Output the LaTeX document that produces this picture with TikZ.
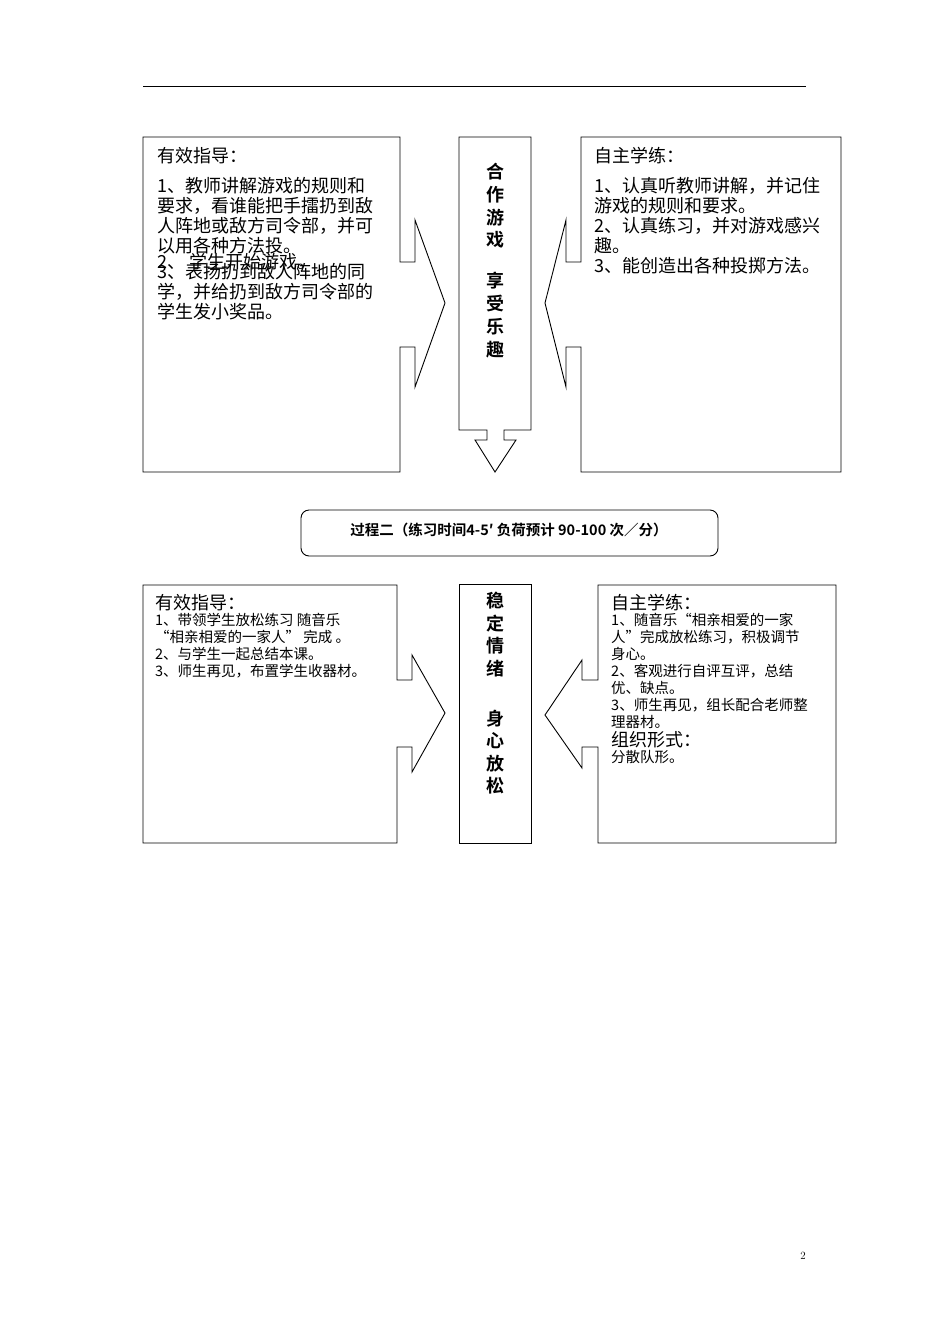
\documentclass[tikz,border=0pt]{standalone}
\usepackage{fontspec}
\newfontfamily\cjk{Noto Sans CJK SC}
\newfontfamily\cjkb{Noto Sans CJK SC Bold}
\begin{document}
\begin{tikzpicture}[x=1pt,y=-1pt,
  shp/.style={draw,line width=0.9pt,line join=miter},
  tA/.style={anchor=west,inner sep=0,font=\cjk\fontsize{18}{20}\selectfont},
  tB/.style={anchor=west,inner sep=0,font=\cjk\fontsize{14.5}{16}\selectfont},
  vt/.style={inner sep=0,font=\cjkb\fontsize{18}{18}\selectfont}]
\useasboundingbox (0,0) rectangle (950,1344);
\draw[line width=0.8pt] (143,86) -- (806,86);
% top
\draw[shp] (143,137) -- (400,137) -- (400,262) -- (415,262) -- (415,220) -- (445,303) -- (415,387) -- (415,347) -- (400,347) -- (400,472) -- (143,472) -- cycle;
\draw[shp] (459,137) -- (531,137) -- (531,430) -- (504,430) -- (504,440) -- (516,440) -- (495,472) -- (475,440) -- (487,440) -- (487,430) -- (459,430) -- cycle;
\draw[shp] (841,137) -- (581,137) -- (581,262) -- (566,262) -- (566,220) -- (545,303) -- (566,387) -- (566,347) -- (581,347) -- (581,472) -- (841,472) -- cycle;
\node[tA] (a0) at (157,156) {有效指导：};
\node[tA] (a1) at (157,186) {1、教师讲解游戏的规则和};
\node[tA] (a2) at (157,206) {要求，看谁能把手擂扔到敌};
\node[tA] (a3) at (157,226) {人阵地或敌方司令部，并可};
\node[tA] (a4) at (157,246) {以用各种方法投。};
\node[tA] (a5) at (157,262) {2、 学生开始游戏。};
\node[tA] (a6) at (157,272) {3、表扬扔到敌人阵地的同};
\node[tA] (a7) at (157,292) {学，并给扔到敌方司令部的};
\node[tA] (a8) at (157,312) {学生发小奖品。};
\node[tA] (b0) at (594,156) {自主学练：};
\node[tA] (b1) at (594,186) {1、认真听教师讲解，并记住};
\node[tA] (b2) at (594,206) {游戏的规则和要求。};
\node[tA] (b3) at (594,226) {2、认真练习，并对游戏感兴};
\node[tA] (b4) at (594,246) {趣。};
\node[tA] (b5) at (594,266) {3、能创造出各种投掷方法。};
\foreach \c/\y [count=\i] in {合/172,作/195,游/218,戏/240,享/281,受/304,乐/327,趣/350}
  \node[vt] (v\i) at (495,\y) {\c};
% banner
\draw[line width=0.9pt,rounded corners=8pt] (301,510) rectangle (718,556);
\node[inner sep=0,font=\cjkb\fontsize{14.5}{16}\selectfont] (ban) at (509,530) {过程二（练习时间4-5′ 负荷预计 90-100 次／分）};
% bottom
\draw[shp] (143,585) -- (397,585) -- (397,680) -- (412,680) -- (412,655) -- (445,713) -- (412,772) -- (412,747) -- (397,747) -- (397,843) -- (143,843) -- cycle;
\draw[shp] (459,584) rectangle (531,843);
\draw[shp] (836,585) -- (598,585) -- (598,680) -- (582,680) -- (582,660) -- (545,715) -- (582,768) -- (582,747) -- (598,747) -- (598,843) -- (836,843) -- cycle;
\node[tA] (c0) at (155,603) {有效指导：};
\node[tB] (c1) at (155,620) {1、带领学生放松练习 随音乐};
\node[tB] (c2) at (155,637) {“相亲相爱的一家人” 完成 。};
\node[tB] (c3) at (155,654) {2、与学生一起总结本课。};
\node[tB] (c4) at (155,671) {3、师生再见，布置学生收器材。};
\node[tA] (d0) at (611,603) {自主学练：};
\node[tB] (d1) at (611,620) {1、随音乐“相亲相爱的一家};
\node[tB] (d2) at (611,637) {人”完成放松练习，积极调节};
\node[tB] (d3) at (611,654) {身心。};
\node[tB] (d4) at (611,671) {2、客观进行自评互评，总结};
\node[tB] (d5) at (611,688) {优、缺点。};
\node[tB] (d6) at (611,705) {3、师生再见，组长配合老师整};
\node[tB] (d7) at (611,722) {理器材。};
\node[tA] (d8) at (611,740) {组织形式：};
\node[tB] (d9) at (611,757) {分散队形。};
\foreach \c/\y [count=\i] in {稳/601,定/624,情/646,绪/669,身/719,心/741,放/764,松/786}
  \node[vt] (w\i) at (495,\y) {\c};
\node[inner sep=0,font=\fontsize{11}{13}\selectfont] (pg) at (803,1256) {2};
\end{tikzpicture}
\end{document}
